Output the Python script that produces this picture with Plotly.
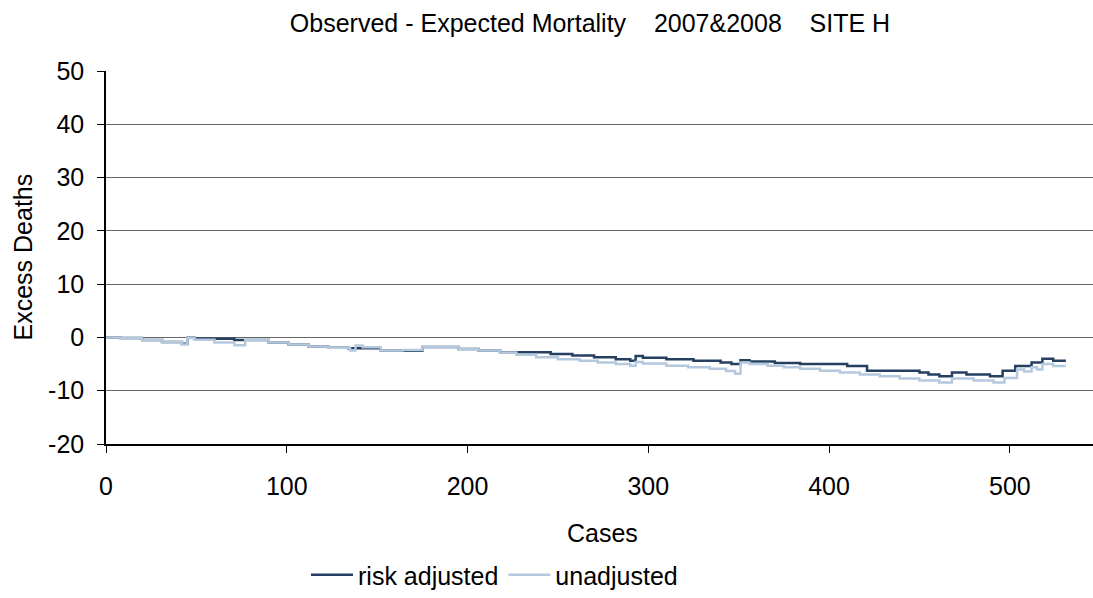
import plotly.graph_objects as go

# Cumulative observed minus expected deaths, stored at the cases where the value changes
adj_cases = [0, 8, 20, 31, 42, 45, 49, 71, 90, 101, 112, 123, 134, 152, 164, 175, 195, 206,
             218, 246, 258, 270, 282, 290, 293, 297, 310, 325, 340, 346, 351, 356, 370, 384,
             410, 421, 450, 455, 461, 468, 476, 489, 496, 503, 512, 518, 524, 531]
adj_values = [0.0, -0.1, -0.5, -0.85, -1.2, -0.05, -0.25, -0.5, -0.95, -1.35, -1.7, -1.95, -2.05,
              -2.45, -2.5, -1.8, -2.15, -2.45, -2.8, -3.1, -3.4, -3.7, -4.1, -4.4, -3.5, -3.8,
              -4.1, -4.4, -4.7, -5.0, -4.3, -4.5, -4.8, -5.0, -5.37, -6.25, -6.6, -6.97, -7.3,
              -6.6, -6.97, -7.3, -6.25, -5.37, -4.71, -4.0, -4.4, -4.4]

unadj_cases = [0, 8, 20, 31, 42, 45, 49, 60, 71, 77, 90, 101, 112, 123, 135, 138, 142, 152, 164,
               175, 195, 206, 218, 227, 238, 250, 262, 272, 282, 290, 293, 297, 310, 322, 334,
               343, 348, 351, 356, 366, 375, 384, 395, 406, 417, 428, 439, 450, 461, 468, 480,
               491, 497, 504, 508, 512, 515, 518, 524, 531]
unadj_values = [0.0, -0.15, -0.55, -0.9, -1.35, -0.1, -0.45, -0.95, -1.45, -0.45, -0.95, -1.35,
                -1.7, -1.95, -2.45, -1.5, -1.84, -2.45, -2.35, -1.8, -2.15, -2.45, -2.85, -3.25,
                -3.7, -4.1, -4.4, -4.7, -5.0, -5.3, -4.6, -4.9, -5.3, -5.6, -5.9, -6.3, -6.8,
                -4.7, -5.0, -5.3, -5.6, -5.88, -6.25, -6.6, -6.97, -7.3, -7.7, -8.1, -8.46,
                -7.7, -8.1, -8.46, -7.6, -6.0, -6.4, -5.6, -6.0, -5.0, -5.35, -5.35]

y_ticks = [-20, -10, 0, 10, 20, 30, 40, 50]
y_tick_labels = ["-20", "-10", "0", "10", "20", "30", "40", "50"]
x_ticks = [0, 100, 200, 300, 400, 500]

FONT = "Liberation Sans, Arial, sans-serif"
SIZE = 25

fig = go.Figure()
fig.add_trace(go.Scatter(
    x=adj_cases, y=adj_values, mode="lines", name="risk adjusted",
    line=dict(color="#243F60", width=2.5, shape="hv"),
))
fig.add_trace(go.Scatter(
    x=unadj_cases, y=unadj_values, mode="lines", name="unadjusted",
    line=dict(color="#B4C9DE", width=2.5, shape="hv"),
))

fig.update_layout(
    width=1093, height=598,
    margin=dict(l=106, r=0, t=71, b=147),
    paper_bgcolor="white", plot_bgcolor="white",
    font=dict(family=FONT, size=SIZE, color="black"),
    title=dict(
        text="Observed - Expected Mortality&nbsp;&nbsp;&nbsp;&nbsp;2007&2008&nbsp;&nbsp;&nbsp;&nbsp;SITE H",
        x=590 / 1093, xanchor="center", xref="container",
        y=1 - 23 / 598, yanchor="middle", yref="container",
        font=dict(family=FONT, size=SIZE, color="black"),
    ),
    xaxis=dict(
        range=[0, 546], tickvals=x_ticks, ticks="outside", ticklen=7, tickcolor="black",
        showline=True, linecolor="black", linewidth=1.5, showgrid=False, zeroline=False,
        tickfont=dict(size=SIZE), ticklabelstandoff=12,
    ),
    yaxis=dict(
        range=[-20, 50], tickvals=y_ticks, ticktext=y_tick_labels, ticks="outside", ticklen=7,
        tickcolor="black", showline=True, linecolor="black", linewidth=1.5, showgrid=True,
        gridcolor="#666666", gridwidth=1, zeroline=False, tickfont=dict(size=SIZE),
        ticklabelstandoff=8,
    ),
    showlegend=True,
    legend=dict(
        orientation="h", x=(306 - 106) / 987, xanchor="left",
        y=(451 - 585) / 380.3, yanchor="middle",
        font=dict(family=FONT, size=SIZE), bgcolor="rgba(0,0,0,0)",
        itemwidth=42, tracegroupgap=0,
    ),
    annotations=[
        dict(text="Cases", x=(602 - 106) / 987, y=(451 - 542) / 380.3, xref="paper", yref="paper",
             xanchor="center", yanchor="middle", showarrow=False, font=dict(size=SIZE)),
        dict(text="Excess Deaths", x=(22 - 106) / 987, y=0.5, xref="paper", yref="paper",
             xanchor="center", yanchor="middle", textangle=-90, showarrow=False,
             font=dict(size=SIZE)),
    ],
)

fig.write_html("out.html")
